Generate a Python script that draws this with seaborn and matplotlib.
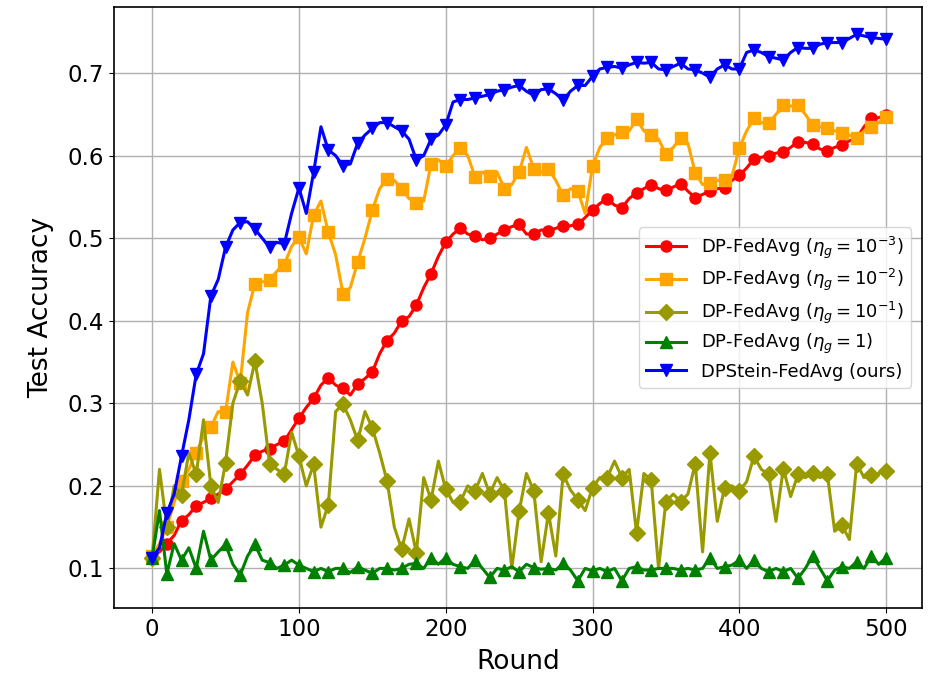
import numpy as np
import pandas as pd
import matplotlib
matplotlib.use("Agg")
import matplotlib.pyplot as plt
import seaborn as sns

rounds = list(range(0, 501, 5))

acc_eta_1e3 = [0.115, 0.12, 0.13, 0.14, 0.158, 0.165, 0.176, 0.18, 0.185, 0.19,
               0.196, 0.205, 0.214, 0.225, 0.237, 0.242, 0.245, 0.25, 0.254, 0.268,
               0.282, 0.295, 0.306, 0.322, 0.331, 0.322, 0.318, 0.31, 0.323, 0.33,
               0.338, 0.36, 0.376, 0.385, 0.400, 0.405, 0.419, 0.44, 0.457, 0.478,
               0.495, 0.505, 0.512, 0.505, 0.503, 0.498, 0.500, 0.505, 0.510, 0.514,
               0.517, 0.505, 0.505, 0.51, 0.509, 0.512, 0.515, 0.515, 0.517, 0.525,
               0.534, 0.542, 0.548, 0.54, 0.537, 0.548, 0.555, 0.56, 0.565, 0.56,
               0.558, 0.562, 0.566, 0.557, 0.549, 0.553, 0.557, 0.56, 0.561, 0.57,
               0.576, 0.585, 0.596, 0.598, 0.600, 0.603, 0.604, 0.61, 0.617, 0.616,
               0.614, 0.608, 0.606, 0.61, 0.613, 0.618, 0.621, 0.635, 0.645, 0.646,
               0.649]

acc_eta_1e2 = [0.115, 0.13, 0.15, 0.18, 0.206, 0.22, 0.240, 0.26, 0.271, 0.29,
               0.289, 0.35, 0.325, 0.41, 0.445, 0.447, 0.449, 0.46, 0.468, 0.49,
               0.501, 0.481, 0.528, 0.545, 0.507, 0.48, 0.433, 0.44, 0.471, 0.50,
               0.534, 0.56, 0.572, 0.57, 0.560, 0.548, 0.543, 0.545, 0.590, 0.595,
               0.587, 0.60, 0.609, 0.60, 0.574, 0.58, 0.575, 0.58, 0.560, 0.565,
               0.580, 0.61, 0.584, 0.58, 0.584, 0.57, 0.552, 0.56, 0.557, 0.53,
               0.587, 0.61, 0.621, 0.625, 0.629, 0.63, 0.644, 0.63, 0.625, 0.62,
               0.602, 0.61, 0.621, 0.615, 0.579, 0.565, 0.567, 0.57, 0.570, 0.575,
               0.609, 0.63, 0.645, 0.64, 0.639, 0.65, 0.661, 0.66, 0.661, 0.65,
               0.637, 0.635, 0.633, 0.63, 0.628, 0.625, 0.621, 0.63, 0.635, 0.64,
               0.647]

acc_eta_1e1 = [0.113, 0.22, 0.15, 0.20, 0.189, 0.24, 0.214, 0.28, 0.200, 0.18,
               0.228, 0.30, 0.327, 0.31, 0.351, 0.30, 0.227, 0.22, 0.214, 0.265,
               0.236, 0.20, 0.226, 0.15, 0.177, 0.29, 0.299, 0.28, 0.255, 0.29,
               0.270, 0.24, 0.206, 0.15, 0.123, 0.16, 0.119, 0.21, 0.183, 0.23,
               0.196, 0.18, 0.181, 0.20, 0.194, 0.215, 0.190, 0.21, 0.194, 0.10,
               0.169, 0.215, 0.194, 0.108, 0.167, 0.115, 0.214, 0.195, 0.183, 0.17,
               0.198, 0.21, 0.210, 0.23, 0.210, 0.22, 0.143, 0.215, 0.207, 0.10,
               0.181, 0.19, 0.181, 0.19, 0.227, 0.12, 0.240, 0.157, 0.198, 0.20,
               0.194, 0.205, 0.236, 0.22, 0.214, 0.157, 0.221, 0.187, 0.214, 0.21,
               0.215, 0.21, 0.214, 0.145, 0.152, 0.135, 0.227, 0.21, 0.213, 0.215,
               0.218]

acc_eta_1 = [0.113, 0.17, 0.093, 0.13, 0.11, 0.125, 0.10, 0.145, 0.11, 0.12,
             0.129, 0.105, 0.092, 0.115, 0.129, 0.11, 0.107, 0.10, 0.104, 0.11,
             0.104, 0.10, 0.096, 0.10, 0.096, 0.10, 0.10, 0.095, 0.102, 0.098,
             0.094, 0.10, 0.10, 0.098, 0.100, 0.105, 0.106, 0.10, 0.113, 0.105,
             0.113, 0.105, 0.102, 0.10, 0.110, 0.10, 0.089, 0.10, 0.098, 0.102,
             0.096, 0.105, 0.101, 0.099, 0.100, 0.098, 0.106, 0.098, 0.085, 0.10,
             0.097, 0.10, 0.096, 0.10, 0.085, 0.10, 0.102, 0.098, 0.098, 0.10,
             0.100, 0.10, 0.098, 0.10, 0.098, 0.10, 0.113, 0.10, 0.102, 0.104,
             0.110, 0.10, 0.110, 0.10, 0.096, 0.10, 0.096, 0.10, 0.088, 0.10,
             0.115, 0.10, 0.085, 0.098, 0.102, 0.10, 0.108, 0.10, 0.115, 0.105,
             0.113]

acc_stein = [0.113, 0.125, 0.167, 0.19, 0.236, 0.28, 0.335, 0.36, 0.430, 0.45,
             0.489, 0.51, 0.519, 0.52, 0.511, 0.50, 0.489, 0.495, 0.493, 0.53,
             0.561, 0.53, 0.580, 0.635, 0.607, 0.60, 0.588, 0.59, 0.615, 0.625,
             0.633, 0.64, 0.640, 0.635, 0.630, 0.62, 0.595, 0.60, 0.620, 0.625,
             0.637, 0.665, 0.668, 0.668, 0.670, 0.672, 0.674, 0.678, 0.680, 0.683,
             0.685, 0.678, 0.673, 0.68, 0.681, 0.675, 0.667, 0.678, 0.685, 0.685,
             0.696, 0.705, 0.707, 0.708, 0.706, 0.71, 0.713, 0.712, 0.713, 0.705,
             0.704, 0.708, 0.712, 0.705, 0.704, 0.70, 0.695, 0.705, 0.710, 0.705,
             0.705, 0.725, 0.728, 0.725, 0.720, 0.718, 0.716, 0.725, 0.731, 0.73,
             0.730, 0.735, 0.737, 0.737, 0.737, 0.742, 0.747, 0.745, 0.743, 0.742,
             0.741]

labels = [r'DP-FedAvg ($\eta_g=10^{-3}$)',
          r'DP-FedAvg ($\eta_g=10^{-2}$)',
          r'DP-FedAvg ($\eta_g=10^{-1}$)',
          r'DP-FedAvg ($\eta_g=1$)',
          'DPStein-FedAvg (ours)']
series = [acc_eta_1e3, acc_eta_1e2, acc_eta_1e1, acc_eta_1, acc_stein]
colors = ['red', 'orange', '#999900', 'green', 'blue']
markers = ['o', 's', 'D', '^', 'v']

fig = plt.figure(figsize=(9.29, 6.78), dpi=100)
ax = fig.add_axes([0.1227, 0.1032, 0.8698, 0.8864])

for lab, vals, col, mk in zip(labels, series, colors, markers):
    df = pd.DataFrame({'Round': rounds, 'Acc': vals})
    sns.lineplot(data=df, x='Round', y='Acc', ax=ax, color=col, marker=mk,
                 markevery=2, markersize=8, linewidth=2.2, label=lab,
                 markeredgecolor=col, markeredgewidth=1)

ax.set_xlim(-26, 524.5)
ax.set_ylim(0.052, 0.780)
ax.set_xticks([0, 100, 200, 300, 400, 500])
ax.set_yticks([0.1, 0.2, 0.3, 0.4, 0.5, 0.6, 0.7])
ax.grid(True, color='#b0b0b0', linewidth=1)
ax.set_axisbelow(True)
ax.tick_params(labelsize=16.5)
ax.set_xlabel('Round', fontsize=19, labelpad=6)
ax.set_ylabel('Test Accuracy', fontsize=19, labelpad=10)
for s in ax.spines.values():
    s.set_color('black')
    s.set_linewidth(1.2)

ax.legend(loc='center right', bbox_to_anchor=(0.997, 0.50), fontsize=13,
          labelspacing=0.35, handlelength=2.2,
          framealpha=0.8, edgecolor='#cccccc')

fig.savefig('out.png', dpi=100)
